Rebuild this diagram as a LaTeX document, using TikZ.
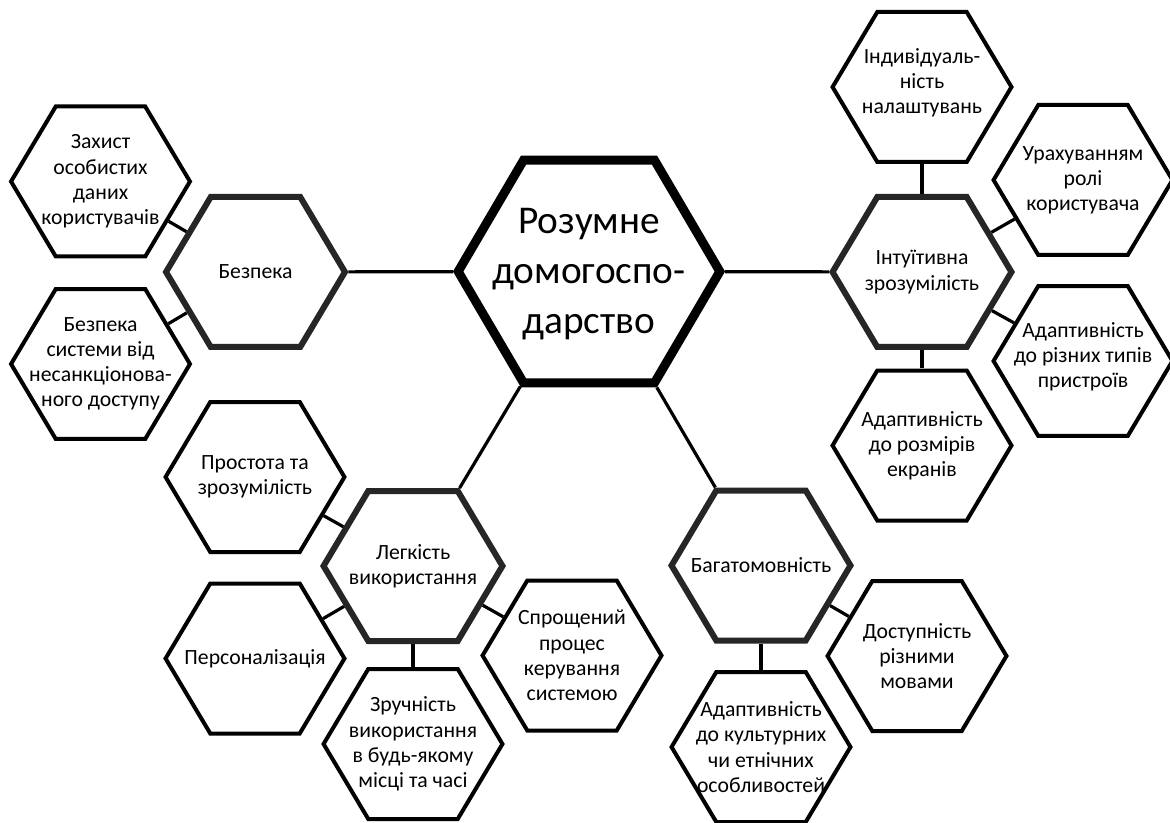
\documentclass[tikz,border=0pt]{standalone}
\usepackage{fontspec}
\setmainfont{Carlito}
\usetikzlibrary{shapes.geometric}
\definecolor{hexgray}{RGB}{38,38,38}
\begin{document}
\begin{tikzpicture}[x=0.75pt,y=-0.75pt,
  hexbase/.style={regular polygon, regular polygon sides=6, inner sep=0pt, fill=white},
  leaf/.style={hexbase, draw=black, line width=3pt, minimum size=129.9pt, xscale=1.033},
  branch/.style={hexbase, draw=hexgray, line width=4.5pt, minimum size=129.9pt, xscale=1.033},
  root/.style={hexbase, draw=black, line width=6.75pt, minimum size=193pt, xscale=1.017},
  txt/.style={align=center, inner sep=0pt, font=\fontsize{16.3}{18.9}\selectfont},
  roottxt/.style={align=center, inner sep=0pt, font=\fontsize{29.5}{37.5}\selectfont},
  conn/.style={draw=black, line width=2.4pt}
]
\useasboundingbox (0,0) rectangle (1170,823);

% hexagons
\node[root]   (C)  at (589,271.5) {};
\node[branch] (B)  at (255.5,272) {};
\node[branch] (I)  at (922,272) {};
\node[branch] (L)  at (413,566) {};
\node[branch] (M)  at (761,565.5) {};

\node[leaf] (B1) at (100.5,181.5) {};
\node[leaf] (B2) at (100.5,364) {};

\node[leaf] (I1) at (922,87) {};
\node[leaf] (I2) at (1083,180) {};
\node[leaf] (I3) at (1083,361) {};
\node[leaf] (I4) at (922,445.5) {};

\node[leaf] (L1) at (255,477) {};
\node[leaf] (L2) at (255,658.5) {};
\node[leaf] (L3) at (413,744) {};
\node[leaf] (L4) at (572,655.5) {};

\node[leaf] (M1) at (761,747) {};
\node[leaf] (M2) at (917,656) {};

% connectors
\draw[conn] (C) -- (B);
\draw[conn] (C) -- (I);
\draw[conn] (C) -- (L);
\draw[conn] (C) -- (M);
\draw[conn] (B) -- (B1);
\draw[conn] (B) -- (B2);
\draw[conn] (I) -- (I1);
\draw[conn] (I) -- (I2);
\draw[conn] (I) -- (I3);
\draw[conn] (I) -- (I4);
\draw[conn] (L) -- (L1);
\draw[conn] (L) -- (L2);
\draw[conn] (L) -- (L3);
\draw[conn] (L) -- (L4);
\draw[conn] (M) -- (M1);
\draw[conn] (M) -- (M2);

% texts
\node[roottxt] (tC) at ([yshift=-2pt]C) {Розумне\\домогоспо-\\дарство};
\node[txt] (tB) at (B) {Безпека};
\node[txt] (tI) at (I) {Інтуїтивна\\зрозумілість};
\node[txt] (tL) at (L) {Легкість\\використання};
\node[txt] (tM) at (M) {Багатомовність};
\node[txt] (tB1) at (B1) {Захист\\особистих\\даних\\користувачів};
\node[txt] (tB2) at (B2) {Безпека\\системи від\\несанкціонова-\\ного доступу};
\node[txt] (tI1) at ([yshift=3pt]I1) {Індивідуаль-\\ність\\налаштувань};
\node[txt] (tI2) at (I2) {Урахуванням\\ролі\\користувача};
\node[txt] (tI3) at ([yshift=3pt]I3) {Адаптивність\\до різних типів\\пристроїв};
\node[txt] (tI4) at (I4) {Адаптивність\\до розмірів\\екранів};
\node[txt] (tL1) at (L1) {Простота та\\зрозумілість};
\node[txt] (tL2) at (L2) {Персоналізація};
\node[txt] (tL3) at (L3) {Зручність\\використання\\в будь-якому\\місці та часі};
\node[txt] (tL4) at (L4) {Спрощений\\процес\\керування\\системою};
\node[txt] (tM1) at (M1) {Адаптивність\\до культурних\\чи етнічних\\особливостей};
\node[txt] (tM2) at (M2) {Доступність\\різними\\мовами};
\end{tikzpicture}
\end{document}
